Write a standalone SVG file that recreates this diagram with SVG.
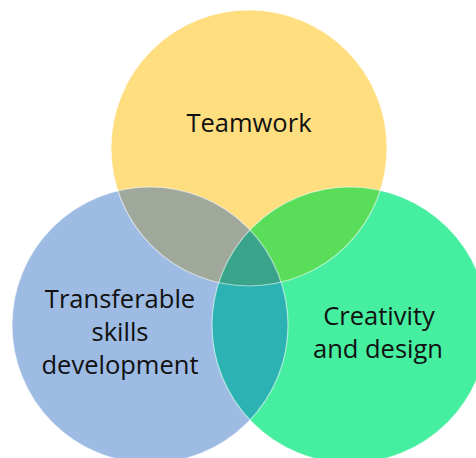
<svg xmlns="http://www.w3.org/2000/svg" width="476" height="458" viewBox="0 0 476 458">
  <defs>
    <style>
      .label { font-family: "Open Sans", "Noto Sans", "Liberation Sans", sans-serif; font-size: 25.5px; fill: #111111; text-anchor: middle; }
      .edge { fill: none; stroke: #ffffff; stroke-opacity: 0.55; stroke-width: 1.2; }
    </style>
    <clipPath id="clipTop"><circle cx="249" cy="148" r="138"/></clipPath>
    <clipPath id="clipLeft"><circle cx="150" cy="325" r="138"/></clipPath>
    <clipPath id="clipRight"><circle cx="350" cy="325" r="138"/></clipPath>
  </defs>
  <rect width="476" height="458" fill="#ffffff"/>

  <g id="teamwork">
    <circle cx="249" cy="148" r="138" fill="#FFDE80"/>
  </g>
  <g id="transferable-skills">
    <circle cx="150" cy="325" r="138" fill="#9DBBE3"/>
  </g>
  <g id="creativity-design">
    <circle cx="350" cy="325" r="138" fill="#46EEA0"/>
  </g>

  <!-- overlapping regions -->
  <g id="overlaps">
    <circle cx="150" cy="325" r="138" fill="#A0A89C" clip-path="url(#clipTop)"/>
    <circle cx="350" cy="325" r="138" fill="#5ADE5A" clip-path="url(#clipTop)"/>
    <circle cx="350" cy="325" r="138" fill="#2CB2B2" clip-path="url(#clipLeft)"/>
    <g clip-path="url(#clipTop)">
      <circle cx="350" cy="325" r="138" fill="#3AA48A" clip-path="url(#clipLeft)"/>
    </g>
  </g>

  <!-- circle outlines -->
  <g id="outlines">
    <circle class="edge" cx="249" cy="148" r="138"/>
    <circle class="edge" cx="150" cy="325" r="138"/>
    <circle class="edge" cx="350" cy="325" r="138"/>
  </g>

  <g id="labels">
    <text class="label" x="249" y="132">Teamwork</text>
    <text class="label" x="120" y="308">Transferable</text>
    <text class="label" x="120" y="341">skills</text>
    <text class="label" x="120" y="374">development</text>
    <text class="label" x="379" y="325">Creativity</text>
    <text class="label" x="378" y="358">and design</text>
  </g>
</svg>
